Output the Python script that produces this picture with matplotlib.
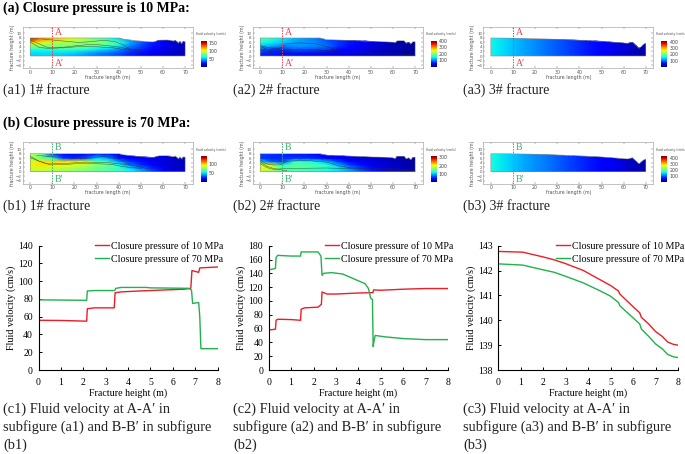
import matplotlib
matplotlib.use('Agg')
import matplotlib.pyplot as plt
from matplotlib.patches import Polygon
import numpy as np

W, H = 685, 454
plt.rcParams['font.family'] = 'Liberation Serif'

# velocity profiles
c1_x10 = [0, 1, 2.15, 2.18, 2.5, 3.38, 3.42, 3.7, 4.5, 5.5, 6.5, 6.8, 6.85, 7.15, 7.2, 8]
c1_y10 = [56, 55.8, 55, 69, 70, 70, 87, 88, 89, 90, 91, 92, 112, 110, 115, 116]
c1_x70 = [0, 0.05, 2.15, 2.18, 2.5, 3.4, 3.45, 3.7, 4.8, 5, 6.7, 6.83, 6.88, 7.15, 7.2, 7.25, 8]
c1_y70 = [80, 79, 78.5, 89, 89.5, 89.5, 92, 93, 93, 92.5, 92, 90, 75, 76, 60, 24, 24]

c2_x10 = [0, 0.3, 0.33, 0.4, 1, 1.42, 1.45, 1.6, 2.2, 2.35, 2.38, 2.6, 3, 4, 4.65, 4.68, 5, 6, 7, 8]
c2_y10 = [58, 59, 72, 73.5, 73, 72, 88, 90, 91, 95, 113, 110, 110, 111.5, 112, 116, 115.5, 117, 118, 118]
c2_x70 = [0, 0.3, 0.33, 0.4, 1, 1.42, 1.45, 2.2, 2.33, 2.38, 2.45, 2.8, 3.3, 3.8, 4.3, 4.45, 4.55, 4.63, 4.66, 4.7,
          4.75, 5.2, 6, 7, 8]
c2_y70 = [145, 147, 163, 166, 165, 165, 171, 171, 165, 137, 140, 141, 139, 132, 125, 118, 104, 102, 34, 42,
          50, 48, 45.5, 44, 44]

c3_x = [0, 1.1, 2, 2.5, 3, 3.8, 4.5, 5, 5.35, 5.42, 6, 6.3, 6.37, 6.7, 7, 7.3, 7.55, 7.8, 8]
c3_y10 = [142.77, 142.74, 142.55, 142.43, 142.28, 142.0, 141.65, 141.4, 141.18, 141.05, 140.55, 140.3, 140.12,
          139.85, 139.55, 139.35, 139.12, 139.03, 139.0]
c3_y70 = [142.27, 142.22, 142.03, 141.93, 141.77, 141.5, 141.2, 140.97, 140.72, 140.58, 140.1, 139.85, 139.65,
          139.35, 139.05, 138.85, 138.62, 138.53, 138.5]

# velocity fields, sampled by eye. rows go bottom to top, columns follow field_x
field_x = [0, 5, 10, 15, 20, 25, 30, 35, 40, 45, 50, 55, 60, 65, 70]
field_y = [0, 1.5, 3, 4.5, 6, 8]

a1_field = [[55, 55, 55, 52, 50, 45, 40, 37, 32, 25, 20, 15, 12, 10, 8],
            [58, 58, 58, 58, 55, 50, 45, 40, 35, 28, 24, 18, 15, 12, 8],
            [68, 65, 68, 70, 68, 65, 60, 55, 45, 35, 28, 22, 16, 12, 8],
            [85, 85, 85, 85, 85, 80, 75, 70, 60, 42, 32, 24, 18, 12, 8],
            [115, 105, 95, 92, 88, 85, 90, 82, 70, 50, 36, 26, 18, 12, 8],
            [165, 135, 120, 112, 105, 95, 75, 65, 55, 45, 36, 26, 15, 10, 8]]
a2_field = [[60, 60, 55, 55, 52, 50, 45, 42, 38, 32, 28, 22, 18, 14, 10],
            [70, 62, 60, 62, 60, 58, 52, 48, 42, 36, 30, 24, 18, 14, 10],
            [90, 70, 70, 85, 85, 80, 75, 55, 48, 38, 32, 25, 18, 14, 10],
            [125, 120, 100, 110, 110, 105, 95, 70, 55, 42, 34, 26, 20, 14, 10],
            [155, 145, 130, 115, 112, 105, 88, 72, 60, 46, 36, 28, 20, 14, 10],
            [185, 165, 145, 125, 110, 100, 85, 72, 60, 48, 38, 28, 20, 14, 10]]
a3_field = [[155, 145, 132, 120, 110, 100, 90, 80, 70, 60, 50, 42, 32, 22, 15],
            [155, 145, 132, 120, 110, 100, 90, 80, 70, 60, 50, 42, 32, 22, 15],
            [155, 145, 132, 120, 110, 100, 90, 80, 70, 60, 50, 42, 32, 22, 15],
            [155, 145, 132, 120, 110, 100, 90, 80, 70, 60, 50, 42, 32, 22, 15],
            [155, 145, 132, 120, 110, 100, 90, 80, 70, 60, 50, 42, 32, 22, 15],
            [155, 145, 132, 120, 110, 100, 90, 80, 70, 60, 50, 42, 32, 22, 15]]
b1_field = [[82, 82, 80, 78, 76, 72, 68, 64, 62, 55, 45, 30, 18, 12, 8],
            [88, 88, 86, 84, 80, 76, 70, 66, 62, 50, 36, 24, 15, 10, 8],
            [95, 98, 95, 92, 88, 84, 76, 72, 55, 36, 24, 18, 12, 10, 8],
            [88, 98, 100, 98, 95, 92, 68, 62, 40, 26, 20, 15, 12, 10, 8],
            [80, 72, 60, 28, 24, 30, 50, 42, 22, 18, 16, 14, 12, 10, 8],
            [85, 70, 22, 18, 18, 16, 16, 15, 14, 14, 12, 12, 10, 10, 8]]
b2_field = [[190, 170, 140, 135, 128, 122, 115, 105, 90, 70, 50, 36, 26, 18, 10],
            [190, 180, 145, 140, 138, 132, 125, 112, 85, 60, 42, 30, 22, 16, 10],
            [205, 190, 120, 145, 140, 135, 125, 95, 60, 45, 34, 26, 20, 14, 10],
            [110, 70, 60, 125, 122, 115, 95, 60, 40, 34, 28, 22, 18, 14, 10],
            [55, 50, 52, 55, 55, 50, 40, 35, 32, 28, 24, 20, 16, 12, 10],
            [60, 55, 50, 46, 44, 40, 36, 32, 28, 26, 22, 18, 14, 12, 10]]
b3_field = [[160, 148, 135, 122, 112, 102, 92, 82, 72, 62, 52, 44, 34, 22, 15],
            [160, 148, 135, 122, 112, 102, 92, 82, 72, 62, 52, 44, 34, 22, 15],
            [160, 148, 135, 122, 112, 102, 92, 82, 72, 62, 52, 44, 34, 22, 15],
            [160, 148, 135, 122, 112, 102, 92, 82, 72, 62, 52, 44, 34, 22, 15],
            [160, 148, 135, 122, 112, 102, 92, 82, 72, 62, 52, 44, 34, 22, 15],
            [160, 148, 135, 122, 112, 102, 92, 82, 72, 62, 52, 44, 34, 22, 15]]

# top edge of each fracture
top1_x = [0, 40, 42, 48, 54, 56, 58, 62, 65, 65.5, 67, 67.5, 68.5, 69, 70]
top1_y = [8, 8, 7.5, 6.8, 6.3, 6.3, 7, 7.1, 6.6, 7, 5.6, 6.6, 5.5, 6.5, 6.4]
top2_x = [0, 27, 30, 40, 50, 55, 60, 61, 62, 65, 66, 67, 68, 69, 70]
top2_y = [8, 8, 7.3, 6.9, 6.5, 6.4, 6.1, 5.8, 6.8, 6.8, 5.6, 6.2, 5.2, 6.4, 6.3]
top3_x = [0, 10, 20, 30, 40, 50, 60, 62, 64, 65, 67, 68, 69, 70]
top3_y = [8, 7.9, 7.7, 7.4, 7.0, 6.5, 5.8, 5.6, 6.2, 5.2, 3.4, 4.2, 5.2, 5.6]

# contour lines
a1_lines = [([0, 4, 8, 12, 20, 28, 33, 40, 45, 50], [6.2, 3.8, 3.4, 3.5, 4.5, 5.2, 4.8, 4, 3, 2.6]),
            ([0, 4, 8, 15, 22, 30, 37, 43, 50], [7.1, 5.4, 3.7, 3.6, 4.2, 4.1, 3.7, 2.8, 2.4]),
            ([5, 12, 22, 28, 33, 38, 42, 45], [7.6, 6.9, 6, 6.4, 7, 6.4, 5, 3.2])]
a2_lines = [([0, 3, 6, 9, 12, 18, 25, 30, 35], [4.6, 3.8, 3.4, 3.4, 5.6, 5.8, 5.5, 4.2, 2.3]),
            ([0, 3, 6, 12, 20, 30, 40, 50], [4.4, 2.7, 2, 2.6, 2.8, 2.5, 2, 1.8]),
            ([0, 3, 6, 12, 30, 60, 70], [3.2, 1.8, 1.2, 1.3, 1.3, 1.3, 0.3])]
a3_lines = []
b1_lines = [([0, 4, 9, 15, 22, 30, 37, 42, 50], [6.8, 4.6, 3, 3.1, 3.6, 3.5, 3.2, 2.2, 1.4]),
            ([0, 3, 8, 15, 25, 35, 45, 55], [6.2, 5, 3.4, 3.6, 4.2, 4, 3, 1]),
            ([3, 10, 22, 27, 33, 40, 45], [7.2, 6.6, 5.8, 6, 6.8, 5.6, 3.2])]
b2_lines = [([0, 3, 6, 12], [4.4, 2.4, 1.4, 0.4]),
            ([0, 3, 6, 12, 30, 50, 70], [3.6, 1.8, 1, 1.4, 1.6, 1, 0.2]),
            ([0, 3, 6, 9, 12, 20, 30, 36, 42, 60, 70], [5, 3.4, 2.9, 3, 4.6, 5, 4.2, 2.4, 1.6, 1.2, 0.5])]
b3_lines = []

# panel label, field, top edge, contour lines, velocity range, colourbar ticks
panels = {
    'a1': (a1_field, top1_x, top1_y, a1_lines, 167, [50, 100, 150]),
    'a2': (a2_field, top2_x, top2_y, a2_lines, 405, [100, 200, 300, 400]),
    'a3': (a3_field, top3_x, top3_y, a3_lines, 420, [100, 200, 300, 400]),
    'b1': (b1_field, top1_x, top1_y, b1_lines, 146, [50, 100]),
    'b2': (b2_field, top2_x, top2_y, b2_lines, 312, [100, 200, 300]),
    'b3': (b3_field, top3_x, top3_y, b3_lines, 420, [100, 200, 300, 400]),
}


# axes placed with pixel positions, y measured from the top of the picture
def px_axes(left, top, right, bottom):
    return fig.add_axes([left / W, 1 - bottom / H, (right - left) / W, (bottom - top) / H])


def px_text(x, y, s, **kw):
    fig.text(x / W, 1 - y / H, s, **kw)


def draw_field(name, left, top, cut):
    field, tx, ty, lines, vmax, cticks = panels[name]
    ax = px_axes(left, top, left + 170, top + 41.7)
    mesh = ax.pcolormesh(field_x, field_y, field, shading='gouraud', cmap='jet', vmin=0, vmax=vmax, zorder=1)
    outline = Polygon(list(zip(tx, ty)) + [(70, 0), (0, 0)], closed=True, transform=ax.transData,
                      fc='none', ec='#888888', lw=0.4, zorder=3)
    ax.add_patch(outline)
    mesh.set_clip_path(outline)
    for lx, ly in lines:
        ax.plot(lx, ly, color='#2b2b1c', lw=0.35, alpha=0.75, zorder=2)
    ax.set_xlim(-3.4, 73.4)
    ax.set_ylim(-5.5, 13)
    ax.set_xticks(range(0, 71, 10))
    ax.set_yticks(range(-4, 11, 2))
    ax.tick_params(axis='x', labelsize=3.4, length=1.2, width=0.3, pad=0.8, direction='in', top=True,
                   colors='#555555')
    ax.tick_params(axis='y', labelsize=2.9, length=1.2, width=0.3, pad=0.8, direction='in', right=True,
                   colors='#555555')
    for s in ax.spines.values():
        s.set_linewidth(0.5)
        s.set_color('#aaaaaa')
    ax.set_xlabel('fracture length (m)', fontsize=3.4, family='DejaVu Sans', labelpad=0.2, color='#555555')
    ax.set_ylabel('fracture height (m)', fontsize=3.4, family='DejaVu Sans', labelpad=0.8, color='#555555')
    for t in ax.get_xticklabels() + ax.get_yticklabels():
        t.set_family('DejaVu Sans')

    # section line at 10 m with its labels
    col = '#e8404a' if name[0] == 'a' else '#35b56a'
    ax.axvline(10, color=col, lw=0.7, ls=(0, (1.5, 1.2)), zorder=4)
    ax.text(11.2, 10.6, cut, color=col, fontsize=7, va='center')
    ax.text(11.2, -3.4, cut + '\u2032', color=col, fontsize=7, va='center')

    cax = px_axes(left + 178, top + 14, left + 184, top + 40)
    cax.imshow(np.linspace(vmax, 0, 64).reshape(-1, 1), aspect='auto', cmap='jet', extent=[0, 1, 0, vmax])
    cax.set_xticks([])
    cax.yaxis.tick_right()
    cax.set_yticks(cticks)
    cax.tick_params(labelsize=3.4, length=0, pad=1.5, colors='#444444')
    for t in cax.get_yticklabels():
        t.set_family('DejaVu Sans')
    for s in cax.spines.values():
        s.set_visible(False)
    px_text(left + 173, top + 7.5, 'fluid velocity (cm/s)', fontsize=2.2, family='DejaVu Sans', color='#444444',
            va='center')


def draw_lines(left, right, legend_x, xa, ya, xb, yb, ylim, yticks):
    ax = px_axes(left, 245.7, right, 370)
    ax.plot(xa, ya, color='#ee1c25', lw=1.0, label='Closure pressure of 10 MPa')
    ax.plot(xb, yb, color='#22b14c', lw=1.0, label='Closure pressure of 70 MPa')
    ax.set_xlim(0, 8)
    ax.set_ylim(ylim)
    ax.set_xticks(range(9))
    ax.set_yticks(yticks)
    ax.tick_params(axis='x', labelsize=7, length=2.5, width=0.7, direction='in', pad=5.5)
    ax.tick_params(axis='y', labelsize=7, length=2.5, width=0.7, direction='in', pad=4)
    ax.spines['top'].set_visible(False)
    ax.spines['right'].set_visible(False)
    ax.patch.set_alpha(0)
    ax.set_xlabel('Fracture height (m)', fontsize=7.2, labelpad=1.5)
    ax.set_ylabel('Fluid velocity (cm/s)', fontsize=7.2, labelpad=1.5)
    ax.legend(loc='upper left', bbox_to_anchor=(legend_x / W, 1 - 241 / H), bbox_transform=fig.transFigure,
              frameon=False, fontsize=7.2, handlelength=1.4, handletextpad=0.2, labelspacing=0.35, borderpad=0,
              borderaxespad=0)


fig = plt.figure(figsize=(W / 100, H / 100), dpi=100)

px_text(3, 8.5, '(a) Closure pressure is 10 MPa:', fontsize=10, fontweight='bold', va='center')
px_text(3, 123, '(b) Closure pressure is 70 MPa:', fontsize=10, fontweight='bold', va='center')

draw_field('a1', 22.7, 26.7, 'A')
draw_field('a2', 252.7, 26.7, 'A')
draw_field('a3', 483.3, 26.7, 'A')
draw_field('b1', 22.7, 142.3, 'B')
draw_field('b2', 252.7, 142.3, 'B')
draw_field('b3', 483.3, 142.3, 'B')

caption_kw = dict(fontsize=10, va='center', color='#222222')
px_text(3, 90, '(a1) 1# fracture', **caption_kw)
px_text(233, 90, '(a2) 2# fracture', **caption_kw)
px_text(463, 90, '(a3) 3# fracture', **caption_kw)
px_text(3, 206, '(b1) 1# fracture', **caption_kw)
px_text(233, 206, '(b2) 2# fracture', **caption_kw)
px_text(463, 206, '(b3) 3# fracture', **caption_kw)

draw_lines(38.5, 217.7, 95, c1_x10, c1_y10, c1_x70, c1_y70, (0, 140), range(0, 141, 20))
draw_lines(268.7, 448, 325.3, c2_x10, c2_y10, c2_x70, c2_y70, (0, 180), range(0, 181, 20))
draw_lines(498, 678, 556, c3_x, c3_y10, c3_x, c3_y70, (138, 143), range(138, 144))

caption_kw['fontsize'] = 10.4
for x, n in ((3, 1), (233, 2), (463, 3)):
    px_text(x, 409, f'(c{n}) Fluid velocity at A-A\u2032 in', **caption_kw)
    px_text(x, 427, f'subfigure (a{n}) and B-B\u2032 in subfigure', **caption_kw)
    px_text(x, 445, f'(b{n})', **caption_kw)

fig.savefig('out.png', dpi=100)
